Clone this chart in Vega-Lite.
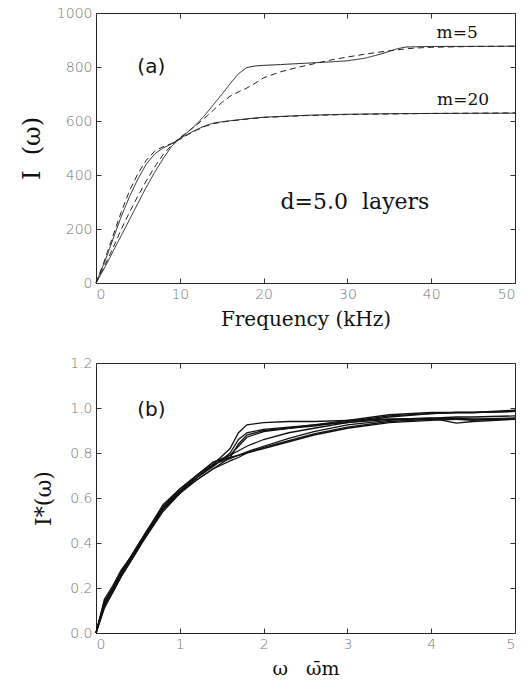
{
  "$schema": "https://vega.github.io/schema/vega-lite/v6.json",
  "background": "white",
  "padding": {"left": 19, "top": 5, "right": 0, "bottom": 5},
  "spacing": 25,
  "config": {
    "view": {"stroke": "#222", "strokeWidth": 1},
    "axis": {
      "grid": false,
      "domain": false,
      "tickColor": "#333",
      "tickSize": -5,
      "labelFont": "DejaVu Sans",
      "labelFontSize": 14,
      "labelFontWeight": 300,
      "labelColor": "#777",
      "labelPadding": 9,
      "titleFont": "DejaVu Serif",
      "titleFontWeight": "normal",
      "titleColor": "#111"
    }
  },
  "vconcat": [
    {
      "width": 419,
      "height": 270,
      "layer": [
        {
          "data": {"values": [
            {"s":"m20s","d":"solid","x":0,"y":0},{"s":"m20s","d":"solid","x":1,"y":75},{"s":"m20s","d":"solid","x":2,"y":160},{"s":"m20s","d":"solid","x":3,"y":245},{"s":"m20s","d":"solid","x":4,"y":320},{"s":"m20s","d":"solid","x":5,"y":385},{"s":"m20s","d":"solid","x":6,"y":440},{"s":"m20s","d":"solid","x":7,"y":478},{"s":"m20s","d":"solid","x":8,"y":500},{"s":"m20s","d":"solid","x":9,"y":515},{"s":"m20s","d":"solid","x":10,"y":535},{"s":"m20s","d":"solid","x":11,"y":552},{"s":"m20s","d":"solid","x":12,"y":568},{"s":"m20s","d":"solid","x":13,"y":582},{"s":"m20s","d":"solid","x":14,"y":592},{"s":"m20s","d":"solid","x":15,"y":597},{"s":"m20s","d":"solid","x":16,"y":601},{"s":"m20s","d":"solid","x":18,"y":608},{"s":"m20s","d":"solid","x":20,"y":614},{"s":"m20s","d":"solid","x":25,"y":621},{"s":"m20s","d":"solid","x":30,"y":625},{"s":"m20s","d":"solid","x":35,"y":627},{"s":"m20s","d":"solid","x":40,"y":628},{"s":"m20s","d":"solid","x":50,"y":629},
            {"s":"m20d","d":"dashed","x":0,"y":0},{"s":"m20d","d":"dashed","x":1,"y":82},{"s":"m20d","d":"dashed","x":2,"y":172},{"s":"m20d","d":"dashed","x":3,"y":262},{"s":"m20d","d":"dashed","x":4,"y":342},{"s":"m20d","d":"dashed","x":5,"y":405},{"s":"m20d","d":"dashed","x":6,"y":455},{"s":"m20d","d":"dashed","x":7,"y":488},{"s":"m20d","d":"dashed","x":8,"y":505},{"s":"m20d","d":"dashed","x":9,"y":516},{"s":"m20d","d":"dashed","x":10,"y":532},{"s":"m20d","d":"dashed","x":11,"y":550},{"s":"m20d","d":"dashed","x":12,"y":566},{"s":"m20d","d":"dashed","x":13,"y":580},{"s":"m20d","d":"dashed","x":14,"y":590},{"s":"m20d","d":"dashed","x":15,"y":596},{"s":"m20d","d":"dashed","x":16,"y":600},{"s":"m20d","d":"dashed","x":18,"y":607},{"s":"m20d","d":"dashed","x":20,"y":613},{"s":"m20d","d":"dashed","x":25,"y":620},{"s":"m20d","d":"dashed","x":30,"y":624},{"s":"m20d","d":"dashed","x":35,"y":626},{"s":"m20d","d":"dashed","x":40,"y":628},{"s":"m20d","d":"dashed","x":50,"y":630},
            {"s":"m5s","d":"solid","x":0,"y":0},{"s":"m5s","d":"solid","x":1,"y":55},{"s":"m5s","d":"solid","x":2,"y":115},{"s":"m5s","d":"solid","x":3,"y":175},{"s":"m5s","d":"solid","x":4,"y":235},{"s":"m5s","d":"solid","x":5,"y":295},{"s":"m5s","d":"solid","x":6,"y":355},{"s":"m5s","d":"solid","x":7,"y":410},{"s":"m5s","d":"solid","x":8,"y":460},{"s":"m5s","d":"solid","x":9,"y":505},{"s":"m5s","d":"solid","x":10,"y":535},{"s":"m5s","d":"solid","x":11,"y":560},{"s":"m5s","d":"solid","x":12,"y":588},{"s":"m5s","d":"solid","x":13,"y":622},{"s":"m5s","d":"solid","x":14,"y":660},{"s":"m5s","d":"solid","x":15,"y":698},{"s":"m5s","d":"solid","x":16,"y":738},{"s":"m5s","d":"solid","x":17,"y":775},{"s":"m5s","d":"solid","x":18,"y":798},{"s":"m5s","d":"solid","x":19,"y":804},{"s":"m5s","d":"solid","x":20,"y":806},{"s":"m5s","d":"solid","x":22,"y":809},{"s":"m5s","d":"solid","x":25,"y":814},{"s":"m5s","d":"solid","x":28,"y":819},{"s":"m5s","d":"solid","x":30,"y":823},{"s":"m5s","d":"solid","x":32,"y":832},{"s":"m5s","d":"solid","x":34,"y":848},{"s":"m5s","d":"solid","x":35,"y":858},{"s":"m5s","d":"solid","x":36,"y":868},{"s":"m5s","d":"solid","x":37,"y":874},{"s":"m5s","d":"solid","x":40,"y":876},{"s":"m5s","d":"solid","x":50,"y":877},
            {"s":"m5d","d":"dashed","x":0,"y":0},{"s":"m5d","d":"dashed","x":1,"y":62},{"s":"m5d","d":"dashed","x":2,"y":128},{"s":"m5d","d":"dashed","x":3,"y":198},{"s":"m5d","d":"dashed","x":4,"y":262},{"s":"m5d","d":"dashed","x":5,"y":322},{"s":"m5d","d":"dashed","x":6,"y":378},{"s":"m5d","d":"dashed","x":7,"y":430},{"s":"m5d","d":"dashed","x":8,"y":475},{"s":"m5d","d":"dashed","x":9,"y":510},{"s":"m5d","d":"dashed","x":10,"y":538},{"s":"m5d","d":"dashed","x":11,"y":562},{"s":"m5d","d":"dashed","x":12,"y":585},{"s":"m5d","d":"dashed","x":13,"y":612},{"s":"m5d","d":"dashed","x":14,"y":640},{"s":"m5d","d":"dashed","x":15,"y":668},{"s":"m5d","d":"dashed","x":16,"y":692},{"s":"m5d","d":"dashed","x":17,"y":708},{"s":"m5d","d":"dashed","x":18,"y":722},{"s":"m5d","d":"dashed","x":19,"y":740},{"s":"m5d","d":"dashed","x":20,"y":760},{"s":"m5d","d":"dashed","x":22,"y":782},{"s":"m5d","d":"dashed","x":24,"y":798},{"s":"m5d","d":"dashed","x":26,"y":812},{"s":"m5d","d":"dashed","x":28,"y":826},{"s":"m5d","d":"dashed","x":30,"y":837},{"s":"m5d","d":"dashed","x":32,"y":847},{"s":"m5d","d":"dashed","x":34,"y":856},{"s":"m5d","d":"dashed","x":36,"y":864},{"s":"m5d","d":"dashed","x":38,"y":870},{"s":"m5d","d":"dashed","x":40,"y":873},{"s":"m5d","d":"dashed","x":45,"y":876},{"s":"m5d","d":"dashed","x":50,"y":877}
          ]},
          "mark": {"type": "line", "strokeWidth": 1, "color": "#222"},
          "encoding": {
            "x": {"field": "x", "type": "quantitative", "scale": {"domain": [0, 50], "nice": false},
                  "axis": {"orient": "bottom", "values": [0, 10, 20, 30, 40, 50], "format": "d", "title": "Frequency (kHz)", "titleFontSize": 20, "titlePadding": 8}},
            "y": {"field": "y", "type": "quantitative", "scale": {"domain": [0, 1000], "nice": false},
                  "axis": {"orient": "left", "values": [0, 200, 400, 600, 800, 1000], "format": "d", "title": "I\u00a0\u00a0(ω)", "titleFontSize": 24, "titlePadding": 12}},
            "detail": {"field": "s"},
            "strokeDash": {"field": "d", "type": "nominal", "scale": {"domain": ["solid", "dashed"], "range": [[1, 0], [6, 4]]}, "legend": null}
          }
        },
        {
          "data": {"values": [{"x": 6.6, "y": 800, "label": "(a)"}]},
          "mark": {"type": "text", "font": "DejaVu Sans", "fontSize": 20, "color": "#111", "align": "center", "baseline": "middle"},
          "encoding": {
            "x": {"field": "x", "type": "quantitative", "axis": {"orient": "top", "labels": false, "title": null, "values": [0, 10, 20, 30, 40, 50]}},
            "y": {"field": "y", "type": "quantitative", "axis": {"orient": "right", "labels": false, "title": null, "values": [0, 200, 400, 600, 800, 1000]}},
            "text": {"field": "label"}
          }
        },
        {
          "data": {"values": [{"x": 30.9, "y": 300, "label": "d=5.0\u00a0\u00a0layers"}]},
          "mark": {"type": "text", "font": "DejaVu Serif", "fontSize": 22, "color": "#111", "align": "center", "baseline": "middle"},
          "encoding": {
            "x": {"field": "x", "type": "quantitative", "axis": null},
            "y": {"field": "y", "type": "quantitative", "axis": null},
            "text": {"field": "label"}
          }
        },
        {
          "data": {"values": [{"x": 43.1, "y": 926, "label": "m=5"}, {"x": 43.8, "y": 678, "label": "m=20"}]},
          "mark": {"type": "text", "font": "DejaVu Serif", "fontSize": 17, "color": "#111", "align": "center", "baseline": "middle"},
          "encoding": {
            "x": {"field": "x", "type": "quantitative", "axis": null},
            "y": {"field": "y", "type": "quantitative", "axis": null},
            "text": {"field": "label"}
          }
        }
      ],
      "resolve": {"axis": {"x": "independent", "y": "independent"}}
    },
    {
      "width": 419,
      "height": 270,
      "layer": [
        {
          "data": {"values": [
            {"s":"c1","x":0,"y":0},{"s":"c1","x":0.1,"y":0.12},{"s":"c1","x":0.2,"y":0.2},{"s":"c1","x":0.3,"y":0.27},{"s":"c1","x":0.4,"y":0.33},{"s":"c1","x":0.5,"y":0.39},{"s":"c1","x":0.6,"y":0.45},{"s":"c1","x":0.8,"y":0.57},{"s":"c1","x":1.0,"y":0.64},{"s":"c1","x":1.2,"y":0.7},{"s":"c1","x":1.4,"y":0.75},{"s":"c1","x":1.6,"y":0.82},{"s":"c1","x":1.7,"y":0.89},{"s":"c1","x":1.8,"y":0.925},{"s":"c1","x":2.0,"y":0.935},{"s":"c1","x":2.3,"y":0.94},{"s":"c1","x":2.6,"y":0.94},{"s":"c1","x":3.0,"y":0.945},{"s":"c1","x":3.5,"y":0.95},{"s":"c1","x":4.0,"y":0.955},{"s":"c1","x":4.3,"y":0.95},{"s":"c1","x":4.5,"y":0.945},{"s":"c1","x":5.0,"y":0.955},
            {"s":"c2","x":0,"y":0},{"s":"c2","x":0.1,"y":0.14},{"s":"c2","x":0.2,"y":0.19},{"s":"c2","x":0.3,"y":0.26},{"s":"c2","x":0.4,"y":0.32},{"s":"c2","x":0.5,"y":0.38},{"s":"c2","x":0.6,"y":0.44},{"s":"c2","x":0.8,"y":0.56},{"s":"c2","x":1.0,"y":0.63},{"s":"c2","x":1.2,"y":0.69},{"s":"c2","x":1.4,"y":0.74},{"s":"c2","x":1.6,"y":0.8},{"s":"c2","x":1.7,"y":0.86},{"s":"c2","x":1.8,"y":0.89},{"s":"c2","x":2.0,"y":0.905},{"s":"c2","x":2.3,"y":0.915},{"s":"c2","x":2.6,"y":0.925},{"s":"c2","x":3.0,"y":0.945},{"s":"c2","x":3.5,"y":0.97},{"s":"c2","x":4.0,"y":0.98},{"s":"c2","x":4.3,"y":0.98},{"s":"c2","x":4.5,"y":0.98},{"s":"c2","x":5.0,"y":0.985},
            {"s":"c3","x":0,"y":0},{"s":"c3","x":0.1,"y":0.13},{"s":"c3","x":0.2,"y":0.18},{"s":"c3","x":0.3,"y":0.25},{"s":"c3","x":0.4,"y":0.31},{"s":"c3","x":0.5,"y":0.37},{"s":"c3","x":0.6,"y":0.43},{"s":"c3","x":0.8,"y":0.55},{"s":"c3","x":1.0,"y":0.62},{"s":"c3","x":1.2,"y":0.68},{"s":"c3","x":1.4,"y":0.73},{"s":"c3","x":1.6,"y":0.78},{"s":"c3","x":1.7,"y":0.84},{"s":"c3","x":1.8,"y":0.88},{"s":"c3","x":2.0,"y":0.9},{"s":"c3","x":2.3,"y":0.91},{"s":"c3","x":2.6,"y":0.92},{"s":"c3","x":3.0,"y":0.94},{"s":"c3","x":3.5,"y":0.965},{"s":"c3","x":4.0,"y":0.975},{"s":"c3","x":4.3,"y":0.98},{"s":"c3","x":4.5,"y":0.98},{"s":"c3","x":5.0,"y":0.985},
            {"s":"c4","x":0,"y":0},{"s":"c4","x":0.1,"y":0.15},{"s":"c4","x":0.2,"y":0.21},{"s":"c4","x":0.3,"y":0.28},{"s":"c4","x":0.4,"y":0.33},{"s":"c4","x":0.5,"y":0.39},{"s":"c4","x":0.6,"y":0.45},{"s":"c4","x":0.8,"y":0.56},{"s":"c4","x":1.0,"y":0.64},{"s":"c4","x":1.2,"y":0.7},{"s":"c4","x":1.4,"y":0.76},{"s":"c4","x":1.6,"y":0.79},{"s":"c4","x":1.7,"y":0.83},{"s":"c4","x":1.8,"y":0.87},{"s":"c4","x":2.0,"y":0.895},{"s":"c4","x":2.3,"y":0.91},{"s":"c4","x":2.6,"y":0.925},{"s":"c4","x":3.0,"y":0.935},{"s":"c4","x":3.5,"y":0.95},{"s":"c4","x":4.0,"y":0.955},{"s":"c4","x":4.3,"y":0.933},{"s":"c4","x":4.5,"y":0.94},{"s":"c4","x":5.0,"y":0.95},
            {"s":"c5","x":0,"y":0},{"s":"c5","x":0.1,"y":0.12},{"s":"c5","x":0.2,"y":0.19},{"s":"c5","x":0.3,"y":0.26},{"s":"c5","x":0.4,"y":0.32},{"s":"c5","x":0.5,"y":0.38},{"s":"c5","x":0.6,"y":0.44},{"s":"c5","x":0.8,"y":0.55},{"s":"c5","x":1.0,"y":0.63},{"s":"c5","x":1.2,"y":0.7},{"s":"c5","x":1.4,"y":0.76},{"s":"c5","x":1.6,"y":0.78},{"s":"c5","x":1.7,"y":0.79},{"s":"c5","x":1.8,"y":0.8},{"s":"c5","x":2.0,"y":0.82},{"s":"c5","x":2.3,"y":0.85},{"s":"c5","x":2.6,"y":0.88},{"s":"c5","x":3.0,"y":0.91},{"s":"c5","x":3.5,"y":0.935},{"s":"c5","x":4.0,"y":0.945},{"s":"c5","x":4.3,"y":0.95},{"s":"c5","x":4.5,"y":0.95},{"s":"c5","x":5.0,"y":0.955},
            {"s":"c6","x":0,"y":0},{"s":"c6","x":0.1,"y":0.14},{"s":"c6","x":0.2,"y":0.2},{"s":"c6","x":0.3,"y":0.27},{"s":"c6","x":0.4,"y":0.32},{"s":"c6","x":0.5,"y":0.38},{"s":"c6","x":0.6,"y":0.43},{"s":"c6","x":0.8,"y":0.54},{"s":"c6","x":1.0,"y":0.62},{"s":"c6","x":1.2,"y":0.69},{"s":"c6","x":1.4,"y":0.75},{"s":"c6","x":1.6,"y":0.775},{"s":"c6","x":1.7,"y":0.79},{"s":"c6","x":1.8,"y":0.805},{"s":"c6","x":2.0,"y":0.83},{"s":"c6","x":2.3,"y":0.865},{"s":"c6","x":2.6,"y":0.895},{"s":"c6","x":3.0,"y":0.925},{"s":"c6","x":3.5,"y":0.945},{"s":"c6","x":4.0,"y":0.955},{"s":"c6","x":4.3,"y":0.96},{"s":"c6","x":4.5,"y":0.96},{"s":"c6","x":5.0,"y":0.965},
            {"s":"c7","x":0,"y":0},{"s":"c7","x":0.1,"y":0.13},{"s":"c7","x":0.2,"y":0.2},{"s":"c7","x":0.3,"y":0.27},{"s":"c7","x":0.4,"y":0.33},{"s":"c7","x":0.5,"y":0.39},{"s":"c7","x":0.6,"y":0.45},{"s":"c7","x":0.8,"y":0.56},{"s":"c7","x":1.0,"y":0.63},{"s":"c7","x":1.2,"y":0.69},{"s":"c7","x":1.4,"y":0.745},{"s":"c7","x":1.6,"y":0.79},{"s":"c7","x":1.7,"y":0.81},{"s":"c7","x":1.8,"y":0.83},{"s":"c7","x":2.0,"y":0.86},{"s":"c7","x":2.3,"y":0.89},{"s":"c7","x":2.6,"y":0.91},{"s":"c7","x":3.0,"y":0.935},{"s":"c7","x":3.5,"y":0.96},{"s":"c7","x":4.0,"y":0.975},{"s":"c7","x":4.3,"y":0.98},{"s":"c7","x":4.5,"y":0.98},{"s":"c7","x":5.0,"y":0.99},
            {"s":"c8","x":0,"y":0},{"s":"c8","x":0.1,"y":0.11},{"s":"c8","x":0.2,"y":0.18},{"s":"c8","x":0.3,"y":0.25},{"s":"c8","x":0.4,"y":0.31},{"s":"c8","x":0.5,"y":0.37},{"s":"c8","x":0.6,"y":0.44},{"s":"c8","x":0.8,"y":0.55},{"s":"c8","x":1.0,"y":0.625},{"s":"c8","x":1.2,"y":0.68},{"s":"c8","x":1.4,"y":0.73},{"s":"c8","x":1.6,"y":0.765},{"s":"c8","x":1.7,"y":0.78},{"s":"c8","x":1.8,"y":0.8},{"s":"c8","x":2.0,"y":0.825},{"s":"c8","x":2.3,"y":0.855},{"s":"c8","x":2.6,"y":0.885},{"s":"c8","x":3.0,"y":0.915},{"s":"c8","x":3.5,"y":0.94},{"s":"c8","x":4.0,"y":0.95},{"s":"c8","x":4.3,"y":0.955},{"s":"c8","x":4.5,"y":0.95},{"s":"c8","x":5.0,"y":0.95}
          ]},
          "mark": {"type": "line", "strokeWidth": 1.3, "color": "#111"},
          "encoding": {
            "x": {"field": "x", "type": "quantitative", "scale": {"domain": [0, 5], "nice": false},
                  "axis": {"orient": "bottom", "values": [0, 1, 2, 3, 4, 5], "format": "d", "title": "ω\u00a0\u00a0\u00a0ω̄m", "titleFontSize": 19, "titlePadding": 8}},
            "y": {"field": "y", "type": "quantitative", "scale": {"domain": [0, 1.2], "nice": false},
                  "axis": {"orient": "left", "values": [0, 0.2, 0.4, 0.6, 0.8, 1.0, 1.2], "format": ".1f", "title": "I*(ω)", "titleFontSize": 22, "titlePadding": 14}},
            "detail": {"field": "s"}
          }
        },
        {
          "data": {"values": [{"x": 0.66, "y": 0.99, "label": "(b)"}]},
          "mark": {"type": "text", "font": "DejaVu Sans", "fontSize": 20, "color": "#111", "align": "center", "baseline": "middle"},
          "encoding": {
            "x": {"field": "x", "type": "quantitative", "axis": {"orient": "top", "labels": false, "title": null, "values": [0, 1, 2, 3, 4, 5]}},
            "y": {"field": "y", "type": "quantitative", "axis": {"orient": "right", "labels": false, "title": null, "values": [0, 0.2, 0.4, 0.6, 0.8, 1.0, 1.2]}},
            "text": {"field": "label"}
          }
        }
      ],
      "resolve": {"axis": {"x": "independent", "y": "independent"}}
    }
  ]
}
